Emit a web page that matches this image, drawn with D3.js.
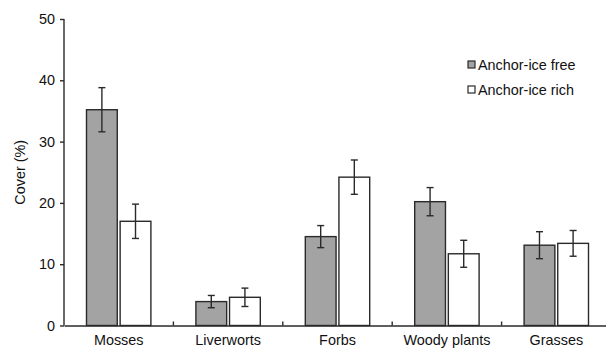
<!DOCTYPE html>
<html>
<head>
<meta charset="utf-8">
<script src="https://cdn.jsdelivr.net/npm/d3@7"></script>
<style>
  body { margin: 0; background: #fff; }
  svg { display: block; font-family: "Liberation Sans", Arial, sans-serif; }
</style>
</head>
<body>
<div id="chart"></div>
<script>
// Datos
const categories = ["Mosses", "Liverworts", "Forbs", "Woody plants", "Grasses"];
const seriesNames = ["Anchor-ice free", "Anchor-ice rich"];
const iceFreeMean = [35.2, 3.9, 14.5, 20.2, 13.1];
const iceFreeErr = [3.6, 1.0, 1.8, 2.3, 2.2];
const iceRichMean = [17.0, 4.6, 24.2, 11.7, 13.4];
const iceRichErr = [2.8, 1.5, 2.8, 2.2, 2.1];
const yTicks = [0, 10, 20, 30, 40, 50];

const width = 606, height = 348;
const margin = { top: 19, right: -5, bottom: 22, left: 64 };
const fills = ["#a3a3a3", "#ffffff"];
const stroke = "#2a2a2a";
const fontSize = "14.4px";
const fontFamily = "'Liberation Sans', Arial, sans-serif";

const svg = d3.select("#chart").append("svg")
    .attr("width", width)
    .attr("height", height);

// Escalas
const x = d3.scaleBand()
    .domain(categories)
    .range([margin.left, width - margin.right])
    .paddingInner(0)
    .paddingOuter(0);

const x1 = d3.scaleBand()
    .domain(seriesNames)
    .range([22.5, x.bandwidth() - 22.5])
    .paddingInner(0.085);

const y = d3.scaleLinear()
    .domain([0, 50])
    .range([height - margin.bottom - 0.5, margin.top]);

const rows = categories.map((c, i) => ({
    category: c,
    values: [
        { series: seriesNames[0], mean: iceFreeMean[i], err: iceFreeErr[i] },
        { series: seriesNames[1], mean: iceRichMean[i], err: iceRichErr[i] }
    ]
}));

// Barras
const groups = svg.selectAll(".group")
    .data(rows)
    .enter()
    .append("g")
    .attr("class", "group")
    .attr("transform", d => `translate(${x(d.category)},0)`);

groups.selectAll("rect")
    .data(d => d.values)
    .enter()
    .append("rect")
    .attr("x", d => x1(d.series))
    .attr("y", d => y(d.mean))
    .attr("width", x1.bandwidth())
    .attr("height", d => y(0) - y(d.mean))
    .attr("fill", (d, i) => fills[i])
    .attr("stroke", stroke)
    .attr("stroke-width", 1.4);

// Barras de error
const eb = groups.selectAll(".err")
    .data(d => d.values)
    .enter()
    .append("g")
    .attr("class", "err")
    .attr("stroke", stroke)
    .attr("stroke-width", 1.4);

eb.append("line")
    .attr("x1", d => x1(d.series) + x1.bandwidth() / 2)
    .attr("x2", d => x1(d.series) + x1.bandwidth() / 2)
    .attr("y1", d => y(d.mean + d.err))
    .attr("y2", d => y(d.mean - d.err));

[1, -1].forEach(s => {
    eb.append("line")
        .attr("x1", d => x1(d.series) + x1.bandwidth() / 2 - 3.5)
        .attr("x2", d => x1(d.series) + x1.bandwidth() / 2 + 3.5)
        .attr("y1", d => y(d.mean + s * d.err))
        .attr("y2", d => y(d.mean + s * d.err));
});

// Eje Y
const yAxis = svg.append("g")
    .attr("transform", `translate(${margin.left},0)`)
    .call(d3.axisLeft(y).tickValues(yTicks).tickSize(4).tickPadding(5));
yAxis.select(".domain").attr("stroke", stroke).attr("stroke-width", 1.4)
    .attr("d", `M0,${y(50)}V${y(0)}`);
yAxis.selectAll(".tick line").attr("stroke", stroke).attr("stroke-width", 1.4);
yAxis.selectAll(".tick text")
    .attr("fill", "#111")
    .style("font-size", fontSize)
    .style("font-family", fontFamily);

// Eje X
const xAxis = svg.append("g")
    .attr("transform", `translate(0,${y(0)})`)
    .call(d3.axisBottom(x).tickSize(0).tickPadding(9));
xAxis.select(".domain").attr("stroke", stroke).attr("stroke-width", 1.4);
xAxis.selectAll(".tick text")
    .attr("fill", "#111")
    .style("font-size", fontSize)
    .style("font-family", fontFamily);

// Marcas entre categorias (hacia arriba)
svg.append("g")
    .selectAll("line")
    .data(categories.slice(1))
    .enter()
    .append("line")
    .attr("x1", d => x(d))
    .attr("x2", d => x(d))
    .attr("y1", y(0))
    .attr("y2", y(0) - 4)
    .attr("stroke", stroke)
    .attr("stroke-width", 1.4);

// Titulo eje Y
svg.append("text")
    .attr("transform", `translate(25,${(y(0) + y(50)) / 2}) rotate(-90)`)
    .attr("text-anchor", "middle")
    .attr("fill", "#111")
    .style("font-size", fontSize)
    .style("font-family", fontFamily)
    .text("Cover (%)");

// Leyenda
const legend = svg.selectAll(".legend")
    .data(seriesNames)
    .enter()
    .append("g")
    .attr("class", "legend")
    .attr("transform", (d, i) => `translate(468,${61 + i * 25})`);

legend.append("rect")
    .attr("width", 7)
    .attr("height", 7)
    .attr("fill", (d, i) => fills[i])
    .attr("stroke", stroke)
    .attr("stroke-width", 1.2);

legend.append("text")
    .attr("x", 10)
    .attr("y", 4)
    .attr("dy", ".35em")
    .attr("fill", "#111")
    .style("font-size", fontSize)
    .style("font-family", fontFamily)
    .text(d => d);
</script>
</body>
</html>
